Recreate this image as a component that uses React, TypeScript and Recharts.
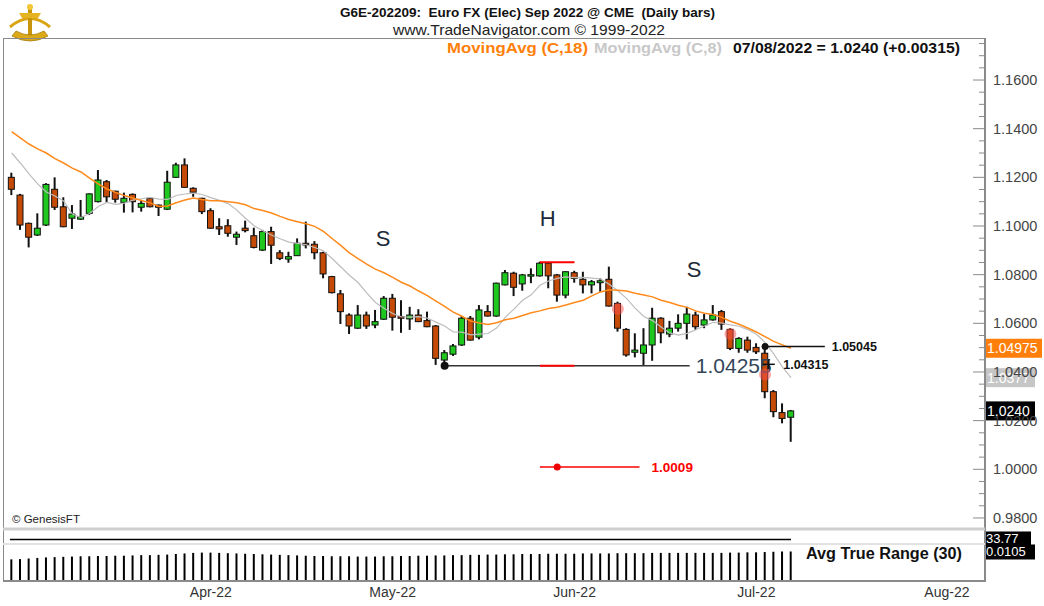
import React from 'react';
import {
  ComposedChart, Bar, Line, XAxis, YAxis, ReferenceLine, ReferenceDot
} from 'recharts';

// daily OHLC, Euro FX Sep 2022 (Mar 1 .. Jul 8 2022)
const opens = [
  1.1200, 1.1127, 1.1011, 1.0963, 1.1004, 1.1151, 1.1079, 1.1032, 1.1028, 1.1052,
  1.1100, 1.1182, 1.1143, 1.1097, 1.1130, 1.1077, 1.1114, 1.1086, 1.1069, 1.1200,
  1.1251, 1.1155, 1.1114, 1.1063, 1.0997, 1.1001, 1.0954, 1.0991, 1.0960, 1.0901,
  1.0977, 1.0890, 1.0864, 1.0878, 1.0929, 1.0925, 1.0890, 1.0792, 1.0721, 1.0634,
  1.0580, 1.0634, 1.0593, 1.0617, 1.0703, 1.0627, 1.0618, 1.0634, 1.0611, 1.0589,
  1.0449, 1.0473, 1.0511, 1.0621, 1.0543, 1.0648, 1.0630, 1.0758, 1.0806, 1.0762,
  1.0796, 1.0795, 1.0847, 1.0799, 1.0716, 1.0808, 1.0781, 1.0758, 1.0767, 1.0781,
  1.0682, 1.0575, 1.0481, 1.0477, 1.0511, 1.0621, 1.0556, 1.0580, 1.0600, 1.0634,
  1.0593, 1.0614, 1.0648, 1.0575, 1.0497, 1.0531, 1.0501, 1.0477, 1.0319, 1.0233,
  1.0214,
];
const highs = [
  1.1219, 1.1132, 1.1014, 1.1052, 1.1176, 1.1200, 1.1118, 1.1086, 1.1107, 1.1134,
  1.1230, 1.1189, 1.1145, 1.1137, 1.1134, 1.1107, 1.1116, 1.1088, 1.1227, 1.1260,
  1.1278, 1.1159, 1.1116, 1.1073, 1.1032, 1.1028, 1.0977, 1.1022, 1.0993, 1.0984,
  1.0997, 1.0901, 1.0894, 1.0949, 1.1018, 1.0938, 1.0894, 1.0795, 1.0737, 1.0641,
  1.0675, 1.0648, 1.0655, 1.0712, 1.0721, 1.0695, 1.0668, 1.0658, 1.0648, 1.0593,
  1.0490, 1.0515, 1.0630, 1.0630, 1.0675, 1.0675, 1.0767, 1.0819, 1.0812, 1.0803,
  1.0826, 1.0853, 1.0849, 1.0803, 1.0814, 1.0816, 1.0812, 1.0778, 1.0785, 1.0833,
  1.0689, 1.0580, 1.0559, 1.0580, 1.0664, 1.0625, 1.0610, 1.0637, 1.0668, 1.0648,
  1.0638, 1.0675, 1.0655, 1.0580, 1.0543, 1.0545, 1.0518, 1.05045, 1.0326, 1.0271,
  1.0244,
];
const lows = [
  1.1127, 1.0984, 1.0912, 1.0959, 1.1000, 1.1066, 1.0995, 1.0988, 1.1025, 1.1045,
  1.1097, 1.1096, 1.1096, 1.1055, 1.1056, 1.1059, 1.1077, 1.1041, 1.1066, 1.1198,
  1.1157, 1.1120, 1.1049, 1.0988, 1.0963, 1.0956, 1.0922, 1.0974, 1.0908, 1.0897,
  1.0844, 1.0860, 1.0849, 1.0877, 1.0908, 1.0863, 1.0785, 1.0723, 1.0597, 1.0556,
  1.0577, 1.0577, 1.0580, 1.0614, 1.0570, 1.0561, 1.0573, 1.0605, 1.0584, 1.0429,
  1.04255, 1.0466, 1.0507, 1.0529, 1.0534, 1.0628, 1.0627, 1.0756, 1.0712, 1.0734,
  1.0765, 1.0792, 1.0744, 1.0689, 1.0703, 1.0767, 1.0723, 1.0723, 1.0730, 1.0669,
  1.0566, 1.0463, 1.0460, 1.0425, 1.0446, 1.0518, 1.0543, 1.0566, 1.0534, 1.0573,
  1.0580, 1.0611, 1.0573, 1.0490, 1.0479, 1.0479, 1.0474, 1.0292, 1.0214, 1.0189,
  1.0113,
];
const closes = [
  1.1151, 1.1004, 1.0954, 1.0991, 1.1171, 1.1077, 1.0997, 1.1049, 1.1038, 1.1132,
  1.1189, 1.1120, 1.1110, 1.1114, 1.1100, 1.1093, 1.1079, 1.1077, 1.1180, 1.1251,
  1.1159, 1.1139, 1.1059, 1.0991, 1.0988, 1.0970, 1.0966, 1.0981, 1.0912, 1.0977,
  1.0921, 1.0867, 1.0874, 1.0929, 1.0922, 1.0890, 1.0803, 1.0726, 1.0648, 1.0589,
  1.0634, 1.0589, 1.0607, 1.0703, 1.0625, 1.0621, 1.0634, 1.0607, 1.0586, 1.0456,
  1.0479, 1.0507, 1.0621, 1.0531, 1.0655, 1.0630, 1.0765, 1.0808, 1.0748, 1.0799,
  1.0800, 1.0847, 1.0795, 1.0716, 1.0812, 1.0785, 1.0758, 1.0771, 1.0775, 1.0671,
  1.0580, 1.0470, 1.0490, 1.0511, 1.0621, 1.0561, 1.0580, 1.0600, 1.0638, 1.0586,
  1.0614, 1.0634, 1.0597, 1.0497, 1.0538, 1.0490, 1.0483, 1.0319, 1.0237, 1.0209,
  1.0240,
];

// moving averages before enough bars are on screen
const ma18Lead = [
  1.1388, 1.1362, 1.1337, 1.1317, 1.1300, 1.1277, 1.1259, 1.1238, 1.1222, 1.1197,
  1.1173, 1.1152, 1.1138, 1.1125, 1.1115, 1.1105, 1.1095,
];
const ma8Lead = [1.1300, 1.1259, 1.1214, 1.1173, 1.1140, 1.1123, 1.1103];

const atr30 = [
  0.0077, 0.0078, 0.0080, 0.0082, 0.0084, 0.0085, 0.0086, 0.0087, 0.0088, 0.0088,
  0.0089, 0.0089, 0.0090, 0.0090, 0.0091, 0.0092, 0.0092, 0.0093, 0.0094, 0.0096,
  0.0098, 0.0100, 0.0101, 0.0101, 0.0100, 0.0099, 0.0098, 0.0097, 0.0096, 0.0095,
  0.0094, 0.0093, 0.0092, 0.0091, 0.0090, 0.0089, 0.0089, 0.0088, 0.0088, 0.0088,
  0.0087, 0.0087, 0.0087, 0.0088, 0.0088, 0.0089, 0.0089, 0.0090, 0.0090, 0.0091,
  0.0091, 0.0092, 0.0092, 0.0093, 0.0093, 0.0094, 0.0094, 0.0095, 0.0095, 0.0096,
  0.0096, 0.0096, 0.0097, 0.0097, 0.0097, 0.0097, 0.0098, 0.0098, 0.0098, 0.0098,
  0.0099, 0.0099, 0.0099, 0.0099, 0.0100, 0.0100, 0.0100, 0.0100, 0.0100, 0.0100,
  0.0100, 0.0100, 0.0100, 0.0101, 0.0101, 0.0102, 0.0102, 0.0103, 0.0104, 0.0105,
  0.0105,
];
const oscLevel = 33.77;
const priceChange = '+0.00315';
const lastDate = '07/08/2022';

const monthTicks = [23, 44, 65, 86, 108];
const monthLabels = ['Apr-22', 'May-22', 'Jun-22', 'Jul-22', 'Aug-22'];

const priceTicks = [
  0.98, 0.985, 0.99, 0.995, 1.0, 1.005, 1.01, 1.015, 1.02, 1.025,
  1.03, 1.035, 1.04, 1.045, 1.05, 1.055, 1.06, 1.065, 1.07, 1.075,
  1.08, 1.085, 1.09, 1.095, 1.1, 1.105, 1.11, 1.115, 1.12, 1.125,
  1.13, 1.135, 1.14, 1.145, 1.15, 1.155, 1.16, 1.165, 1.17, 1.175,
];

// head & shoulders markup (bar index, price)
const patternLetters = [
  { idx: 42.9, price: 1.0951, text: 'S' },
  { idx: 61.9, price: 1.1033, text: 'H' },
  { idx: 78.8, price: 1.0825, text: 'S' },
];
const neckline = { from: 50, to: 78.3, price: 1.04255, textAt: 79.0 };
const headTop = { from: 61, to: 65, price: 1.0851 };
const target = { from: 61, to: 72.5, dotAt: 63, textAt: 73.9, price: 1.0009 };
const breakHigh = { from: 87, to: 93.9, textAt: 94.7, price: 1.05045 };
const breakMark = { at: 87.2, textAt: 89.1, price: 1.04315 };
const signalDots = [
  { idx: 70, price: 1.0659 },
  { idx: 83, price: 1.0556 },
  { idx: 87, price: 1.0390 },
];

const X_DOMAIN: [number, number] = [-1, 112.4];
const NARROW = "'Liberation Sans Narrow', 'Arial Narrow', 'Liberation Sans', Arial, sans-serif";
const SANS = "'Liberation Sans', Arial, sans-serif";

const sma = (arr: number[], i: number, n: number) => {
  let s = 0;
  for (let k = i - n + 1; k <= i; k++) s += arr[k];
  return s / n;
};

const candles = closes.map((c, i) => ({
  idx: i,
  open: opens[i],
  high: highs[i],
  low: lows[i],
  close: c,
  ma18: i >= 17 ? sma(closes, i, 18) : ma18Lead[i],
  ma8: i >= 7 ? sma(closes, i, 8) : ma8Lead[i],
  atr: atr30[i],
}));

const last = candles[candles.length - 1];

const Candle = (props: any) => {
  const { x, y, width, height, payload } = props;
  if (!payload || height == null) return null;
  const { open, close, high, low } = payload;
  const cx = x + width / 2;
  const k = height / (high - low || 1e-9);
  const top = y + (high - Math.max(open, close)) * k;
  const bot = y + (high - Math.min(open, close)) * k;
  const up = close >= open;
  return (
    <g>
      <line x1={cx} x2={cx} y1={y} y2={y + height} stroke="#111" strokeWidth={2} />
      <rect x={cx - 3} y={top} width={6} height={Math.max(bot - top, 1.5)}
        fill={up ? '#1ec81e' : '#c44a06'} stroke="#111" strokeWidth={1} />
    </g>
  );
};

const PriceTick = (props: any) => {
  const { x, y, payload } = props;
  const v = payload.value;
  const major = Math.round(v * 1000) % 20 === 0;
  return (
    <g>
      <line x1={x - (major ? 12 : 6)} x2={x} y1={y} y2={y} stroke="#8a8a8a" strokeWidth={1} />
      {major && (
        <text x={x + 8} y={y + 5} fontSize={14.5} fill="#444" fontFamily={SANS}>
          {v.toFixed(4)}
        </text>
      )}
    </g>
  );
};

const tagShape = (text: string, bg: string, w: number) => (p: any) => (
  <g>
    <rect x={p.cx} y={p.cy - 9.5} width={w} height={19} fill={bg} />
    <text x={p.cx + 2} y={p.cy + 5} fontSize={14} fill="#fff" fontFamily={SANS}>{text}</text>
  </g>
);

const textShape = (text: string, opts: any) => (p: any) => (
  <text x={p.cx} y={p.cy + (opts.dy || 0)} {...opts.attrs}>{text}</text>
);

const Logo = () => (
  <g>
    <path d="M10 27 Q30 10 50 27" stroke="#d9a514" strokeWidth={3} fill="none" />
    <rect x={28} y={5} width={4} height={30} fill="#c8940c" />
    <path d="M19 13 L41 13 L38 18 L22 18 Z" fill="#e4b422" />
    <circle cx={30} cy={7} r={3} fill="#f2c635" />
    <path d="M12 36 Q30 46 48 36 L44 31 Q30 39 16 31 Z" fill="#dcaa18" stroke="#a87c08" strokeWidth={0.8} />
  </g>
);

const App: React.FC = () => {
  return (
    <div style={{ position: 'absolute', left: 0, top: 0, width: 1044, height: 606, background: '#fff', overflow: 'hidden' }}>
      <div style={{ position: 'absolute', left: 0, top: 39 }}>
        <ComposedChart width={1044} height={490} data={candles} margin={{ top: 0, right: 0, bottom: 0, left: 3 }}>
          <XAxis dataKey="idx" type="number" domain={X_DOMAIN} allowDataOverflow hide />
          <YAxis
            orientation="right"
            width={59}
            domain={[0.97546, 1.17686]}
            allowDataOverflow
            ticks={priceTicks}
            interval={0}
            tick={<PriceTick />}
            tickSize={0}
            tickMargin={0}
            tickLine={false}
            axisLine={false}
          />
          <Line type="linear" dataKey="ma8" stroke="#bdbdbd" strokeWidth={1.2} dot={false} isAnimationActive={false} />
          <Line type="linear" dataKey="ma18" stroke="#ff8a1c" strokeWidth={1.5} dot={false} isAnimationActive={false} />
          <Bar dataKey={(d: any) => [d.low, d.high]} barSize={6} shape={<Candle />} isAnimationActive={false} />

          <ReferenceLine segment={[{ x: neckline.from, y: neckline.price }, { x: neckline.to, y: neckline.price }]}
            stroke="#333" strokeWidth={1.5} />
          <ReferenceDot x={neckline.from} y={neckline.price} r={4} fill="#111" stroke="none" />
          <ReferenceDot x={neckline.textAt} y={neckline.price}
            shape={textShape(neckline.price.toFixed(5), { dy: 7.5, attrs: { fontSize: 21, fill: '#34465a', fontFamily: SANS } })} />
          <ReferenceLine segment={[{ x: headTop.from, y: headTop.price }, { x: headTop.to, y: headTop.price }]}
            stroke="#f00" strokeWidth={2} />
          <ReferenceLine segment={[{ x: headTop.from, y: neckline.price }, { x: headTop.to, y: neckline.price }]}
            stroke="#f00" strokeWidth={2} />
          <ReferenceLine segment={[{ x: target.from, y: target.price }, { x: target.to, y: target.price }]}
            stroke="#f00" strokeWidth={1.5} />
          <ReferenceDot x={target.dotAt} y={target.price} r={3.5} fill="#e00" stroke="none" />
          <ReferenceDot x={target.textAt} y={target.price}
            shape={textShape(target.price.toFixed(4), { dy: 5, attrs: { fontSize: 13.5, fontWeight: 700, fill: '#f00', fontFamily: NARROW } })} />

          <ReferenceLine segment={[{ x: breakHigh.from, y: breakHigh.price }, { x: breakHigh.to, y: breakHigh.price }]}
            stroke="#111" strokeWidth={1.5} />
          <ReferenceDot x={breakHigh.from} y={breakHigh.price} r={3.5} fill="#111" stroke="none" />
          <ReferenceDot x={breakHigh.textAt} y={breakHigh.price}
            shape={textShape(breakHigh.price.toFixed(5), { dy: 4.5, attrs: { fontSize: 12.5, fontWeight: 700, fill: '#111', fontFamily: NARROW } })} />
          <ReferenceDot x={breakMark.at} y={breakMark.price}
            shape={(p: any) => (
              <g stroke="#111" strokeWidth={1.5}>
                <line x1={p.cx - 4} x2={p.cx + 8} y1={p.cy} y2={p.cy} />
                <line x1={p.cx + 2} x2={p.cx + 2} y1={p.cy - 5} y2={p.cy + 5} />
              </g>
            )} />
          <ReferenceDot x={breakMark.textAt} y={breakMark.price}
            shape={textShape(breakMark.price.toFixed(5), { dy: 4.5, attrs: { fontSize: 12.5, fontWeight: 700, fill: '#111', fontFamily: NARROW } })} />

          {signalDots.map((d, i) => (
            <ReferenceDot key={`sd${i}`} x={d.idx} y={d.price} r={6} fill="rgba(255,80,80,0.5)" stroke="none" />
          ))}
          {patternLetters.map((l, i) => (
            <ReferenceDot key={`pl${i}`} x={l.idx} y={l.price}
              shape={textShape(l.text, { dy: 8, attrs: { fontSize: 22, fill: '#1c2b3a', textAnchor: 'middle', fontFamily: SANS } })} />
          ))}

          <ReferenceDot x={X_DOMAIN[1]} y={last.ma18} ifOverflow="visible" shape={tagShape(last.ma18.toFixed(5), '#ff7f0a', 57)} />
          <ReferenceDot x={X_DOMAIN[1]} y={last.ma8} ifOverflow="visible" shape={tagShape(last.ma8.toFixed(4), '#c6c6c6', 50)} />
          <ReferenceDot x={X_DOMAIN[1]} y={last.close} ifOverflow="visible" shape={tagShape(last.close.toFixed(4), '#000', 50)} />
        </ComposedChart>
      </div>

      <div style={{ position: 'absolute', left: 0, top: 529 }}>
        <ComposedChart width={1044} height={78} data={candles} margin={{ top: 0, right: 59, bottom: 0, left: 3 }}>
          <XAxis
            dataKey="idx"
            type="number"
            domain={X_DOMAIN}
            allowDataOverflow
            ticks={monthTicks}
            interval={0}
            tickFormatter={(v: number) => monthLabels[monthTicks.indexOf(v)] ?? ''}
            height={26}
            tickLine={false}
            tickSize={4}
            axisLine={{ stroke: '#8a8a8a', strokeWidth: 2 }}
            tick={{ fontSize: 14, fill: '#333', fontFamily: NARROW }}
          />
          <YAxis yAxisId="atr" hide domain={[0, 0.0185]} allowDataOverflow />
          <YAxis yAxisId="osc" hide domain={[0, 42.3]} allowDataOverflow />
          <Bar yAxisId="atr" dataKey="atr" barSize={2} fill="#000" isAnimationActive={false} />
          <ReferenceLine yAxisId="osc" segment={[{ x: -0.2, y: oscLevel }, { x: candles.length - 1, y: oscLevel }]}
            stroke="#000" strokeWidth={1.5} />
          <ReferenceDot yAxisId="osc" x={X_DOMAIN[1]} y={oscLevel} ifOverflow="visible"
            shape={(p: any) => (
              <g>
                <rect x={p.cx} y={p.cy - 8} width={46} height={14} fill="#000" />
                <text x={p.cx + 1} y={p.cy + 4} fontSize={13} fill="#fff" fontFamily={SANS}>{oscLevel.toFixed(2)}</text>
              </g>
            )} />
          <ReferenceDot yAxisId="atr" x={X_DOMAIN[1]} y={last.atr} ifOverflow="visible"
            shape={(p: any) => (
              <g>
                <rect x={p.cx} y={p.cy - 7} width={50} height={15} fill="#000" />
                <text x={p.cx + 1} y={p.cy + 5} fontSize={13} fill="#fff" fontFamily={SANS}>{last.atr.toFixed(4)}</text>
              </g>
            )} />
        </ComposedChart>
      </div>

      <svg width={1044} height={606} style={{ position: 'absolute', left: 0, top: 0, pointerEvents: 'none' }}>
        <Logo />
        <text x={340} y={17} textLength={375} lengthAdjust="spacingAndGlyphs" fontSize={13} fontWeight={700} fill="#111" fontFamily={NARROW}>
          {'G6E-202209:\u00a0 Euro FX (Elec) Sep 2022 @ CME\u00a0 (Daily bars)'}
        </text>
        <text x={393} y={35} textLength={272} lengthAdjust="spacingAndGlyphs" fontSize={14.5} fill="#222" fontFamily={NARROW}>
          www.TradeNavigator.com © 1999-2022
        </text>
        <text x={447} y={53} textLength={141} lengthAdjust="spacingAndGlyphs" fontSize={14.5} fontWeight={700} fill="#ff7f0a" fontFamily={NARROW}>
          MovingAvg (C,18)
        </text>
        <text x={594} y={53} textLength={128} lengthAdjust="spacingAndGlyphs" fontSize={14.5} fontWeight={700} fill="#c8c8c8" fontFamily={NARROW}>
          MovingAvg (C,8)
        </text>
        <text x={733} y={53} textLength={227} lengthAdjust="spacingAndGlyphs" fontSize={14.5} fontWeight={700} fill="#111" fontFamily={NARROW}>
          {`${lastDate} = ${last.close.toFixed(4)} (${priceChange})`}
        </text>

        <line x1={3} x2={985} y1={38.5} y2={38.5} stroke="#8a8a8a" strokeWidth={1} />
        <line x1={3.5} x2={3.5} y1={38} y2={582} stroke="#8a8a8a" strokeWidth={1} />
        <line x1={985} x2={985} y1={38} y2={582} stroke="#8a8a8a" strokeWidth={2} />
        <line x1={3} x2={985} y1={529} y2={529} stroke="#cfcfcf" strokeWidth={3} />
        <line x1={3} x2={985} y1={544} y2={544} stroke="#e2e2e2" strokeWidth={2} />

        <text x={12} y={523} fontSize={11.5} fill="#222" fontFamily={NARROW}>© GenesisFT</text>
        <text x={806} y={559} textLength={156} lengthAdjust="spacingAndGlyphs" fontSize={16} fontWeight={700} fill="#111" fontFamily={NARROW}>
          Avg True Range (30)
        </text>
      </svg>
    </div>
  );
};

export default App;
